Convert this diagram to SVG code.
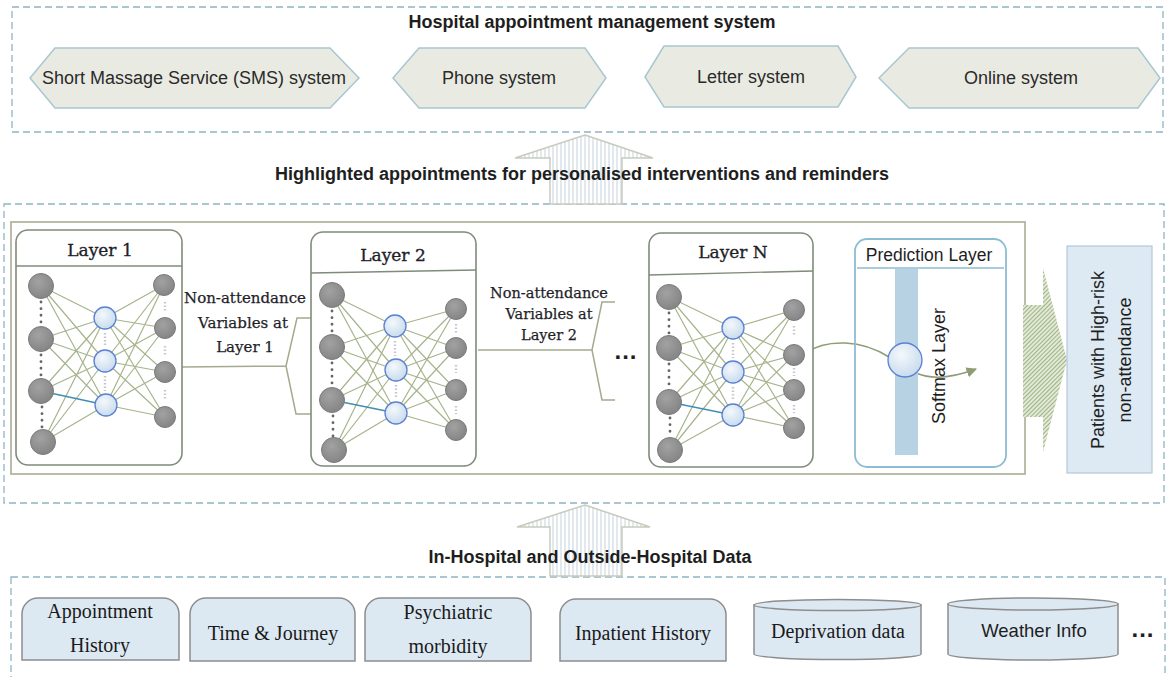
<svg xmlns="http://www.w3.org/2000/svg" width="1167" height="677" viewBox="0 0 1167 677">
<defs>
<style>
.dash{fill:none;stroke:#8fb4c4;stroke-width:1.3;stroke-dasharray:7 4}
.hex{fill:#e9ebe2;stroke:#a8c6d2;stroke-width:1.5}
.title{font-family:"Liberation Sans",Arial,sans-serif;font-weight:bold;font-size:18px;fill:#1e1e1e}
.hx{font-family:"Liberation Sans",Arial,sans-serif;font-size:18px;fill:#2a2a2a}
.sans{font-family:"Liberation Sans",Arial,sans-serif;fill:#1e1e1e}
.serif{font-family:"DejaVu Serif",serif;fill:#1f1f2a;stroke:#1f1f2a;stroke-width:0.35}
.times{font-family:"Liberation Serif","Times New Roman",serif;font-size:20px;fill:#1a1a1a}
.layerbox{fill:#fff;stroke:#7f8c7a;stroke-width:1.6}
.hdr{stroke:#7f8c7a;stroke-width:1.3}
.edge{fill:none;stroke:#a6b48c;stroke-width:1.2}
.blue{stroke:#3f8fb2;stroke-width:1.3}
.gnode{fill:url(#gg);stroke:#7a7a7a;stroke-width:1}
.bnode{fill:url(#bg);stroke:#5c80d2;stroke-width:1.3}
.vdots{stroke:#666;stroke-width:2.8;stroke-linecap:round;stroke-dasharray:0.1 6.5}
.pdots{stroke:#c6c6d0;stroke-width:2.4;stroke-dasharray:1.5 2}
.brace{fill:none;stroke:#a4aa8e;stroke-width:1.5}
.data{fill:#dde9f2;stroke:#8d8d8d;stroke-width:1.5}
.uparrow{fill:url(#vstripe);stroke:#c6ccbd;stroke-width:1.5}
</style>
<radialGradient id="gg" cx="40%" cy="35%" r="70%"><stop offset="0" stop-color="#a2a2a2"/><stop offset="1" stop-color="#838383"/></radialGradient>
<radialGradient id="bg" cx="40%" cy="35%" r="70%"><stop offset="0" stop-color="#f4f8fc"/><stop offset="1" stop-color="#c6daec"/></radialGradient>
<pattern id="vstripe" width="4" height="10" patternUnits="userSpaceOnUse"><rect width="4" height="10" fill="#fff"/><line x1="1" y1="0" x2="1" y2="10" stroke="#c3d3dd" stroke-width="1"/></pattern>
<pattern id="diag" width="3" height="3" patternUnits="userSpaceOnUse" patternTransform="rotate(45)"><rect width="3" height="3" fill="#e2e9d6"/><line x1="0" y1="0" x2="0" y2="3" stroke="#98ad7c" stroke-width="1.8"/></pattern>
<marker id="ah" viewBox="0 0 10 10" refX="9" refY="5" markerWidth="7" markerHeight="7" orient="auto"><path d="M0,0 L10,5 L0,10 z" fill="#8d9c74"/></marker>
</defs>

<rect width="1167" height="677" fill="#fff"/>

<g id="containers">
<rect class="dash" x="12" y="7" width="1151" height="125"/>
<rect class="dash" x="4" y="204" width="1160" height="299"/>
<rect class="dash" x="11" y="577" width="1154" height="120"/>
<rect x="11" y="222" width="1014" height="252" fill="none" stroke="#a9ad92" stroke-width="1.6"/>
</g>

<g id="connectors">
<polygon class="uparrow" points="585,135 653,158 622,158 622,204 550,204 550,158 515,158"/>
<polygon class="uparrow" points="585,505 650,527 622,527 622,576 550,576 550,527 517,527"/>
<polygon points="1023,305 1043,305 1043,268 1067,360 1043,452 1043,417 1023,417" fill="url(#diag)"/>
<path class="brace" d="M182,367 L286,366 M311,318 L297,318 L286,366 L296,414 L311,414"/>
<path class="brace" d="M478,350 L592,350 M615,302 L602,302 L592,350 L602,400 L615,400"/>
<path d="M805,353 C828,338 862,340 889,357" fill="none" stroke="#8d9c74" stroke-width="1.5"/>
<path d="M916,373 C932,380 952,378 976,369" fill="none" stroke="#8d9c74" stroke-width="1.5" marker-end="url(#ah)"/>
</g>

<text class="title" x="592" y="22" text-anchor="middle" dominant-baseline="central">Hospital appointment management system</text>
<text class="title" x="582" y="174" text-anchor="middle" dominant-baseline="central">Highlighted appointments for personalised interventions and reminders</text>
<text class="title" x="590" y="557" text-anchor="middle" dominant-baseline="central">In-Hospital and Outside-Hospital Data</text>

<g id="sms"><polygon class="hex" points="30,78 55,48 330,48 359,78 330,108 55,108"/><text class="hx" x="194" y="78" text-anchor="middle" dominant-baseline="central">Short Massage Service (SMS) system</text></g>
<g id="phone"><polygon class="hex" points="393,78 419,48 585,48 606,78 585,108 419,108"/><text class="hx" x="499" y="78" text-anchor="middle" dominant-baseline="central">Phone system</text></g>
<g id="letter"><polygon class="hex" points="645,77 664,46 838,46 856,77 838,107 664,107"/><text class="hx" x="751" y="77" text-anchor="middle" dominant-baseline="central">Letter system</text></g>
<g id="online"><polygon class="hex" points="879,78 909,48 1138,48 1160,78 1138,108 909,108"/><text class="hx" x="1021" y="78" text-anchor="middle" dominant-baseline="central">Online system</text></g>

<g id="layer1">
<rect class="layerbox" x="16" y="230" width="166" height="235" rx="12"/>
<line class="hdr" x1="16" y1="266" x2="182" y2="266"/>
<text class="serif" x="100" y="250" font-size="17" text-anchor="middle" dominant-baseline="central">Layer 1</text>
<path class="edge" d="M41,286L105,318M41,286L105,361M41,286L106,405M41,339L105,318M41,339L105,361M41,339L106,405M41,391L105,318M41,391L105,361M43,442L105,318M43,442L105,361M43,442L106,405
M105,318L164,285M105,318L165,328M105,318L165,372M105,318L165,417M105,361L164,285M105,361L165,328M105,361L165,372M105,361L165,417M106,405L164,285M106,405L165,328M106,405L165,372M106,405L165,417"/>
<line class="blue" x1="41" y1="391" x2="106" y2="405"/>
<line class="vdots" x1="41" y1="302" x2="41" y2="324"/>
<line class="vdots" x1="41" y1="355" x2="41" y2="376"/>
<line class="vdots" x1="42" y1="407" x2="42" y2="428"/>
<line class="pdots" x1="105" y1="333" x2="105" y2="347"/>
<line class="pdots" x1="105" y1="376" x2="105" y2="391"/>
<line class="pdots" x1="165" y1="302" x2="165" y2="311"/>
<line class="pdots" x1="165" y1="346" x2="165" y2="355"/>
<line class="pdots" x1="165" y1="390" x2="165" y2="399"/>
<circle class="gnode" cx="41" cy="286" r="12.5"/><circle class="gnode" cx="41" cy="339" r="12.5"/><circle class="gnode" cx="41" cy="391" r="12.5"/><circle class="gnode" cx="43" cy="442" r="12.5"/>
<circle class="bnode" cx="105" cy="318" r="11"/><circle class="bnode" cx="105" cy="361" r="11"/><circle class="bnode" cx="106" cy="405" r="11"/>
<circle class="gnode" cx="164" cy="285" r="10.5"/><circle class="gnode" cx="165" cy="328" r="10.5"/><circle class="gnode" cx="165" cy="372" r="10.5"/><circle class="gnode" cx="165" cy="417" r="10.5"/>
</g>

<g id="label1" class="serif" font-size="15" text-anchor="middle" style="stroke-width:0.25">
<text x="245" y="298" dominant-baseline="central">Non-attendance</text>
<text x="243" y="323" dominant-baseline="central">Variables at</text>
<text x="245" y="347" dominant-baseline="central">Layer 1</text>
</g>

<g id="layer2">
<rect class="layerbox" x="311" y="232" width="165" height="234" rx="12"/>
<line class="hdr" x1="311" y1="273" x2="476" y2="270"/>
<text class="serif" x="393" y="255" font-size="17" text-anchor="middle" dominant-baseline="central">Layer 2</text>
<path class="edge" d="M332,295L395,326M332,295L396,370M332,295L396,413M332,347L395,326M332,347L396,370M332,347L396,413M332,400L395,326M332,400L396,370M334,450L395,326M334,450L396,370M334,450L396,413
M395,326L456,309M395,326L456,348M395,326L456,390M395,326L456,430M396,370L456,309M396,370L456,348M396,370L456,390M396,370L456,430M396,413L456,309M396,413L456,348M396,413L456,390M396,413L456,430"/>
<line class="blue" x1="332" y1="400" x2="396" y2="413"/>
<line class="vdots" x1="332" y1="311" x2="332" y2="332"/>
<line class="vdots" x1="332" y1="363" x2="332" y2="384"/>
<line class="vdots" x1="333" y1="416" x2="333" y2="436"/>
<line class="pdots" x1="395" y1="341" x2="395" y2="356"/>
<line class="pdots" x1="396" y1="385" x2="396" y2="399"/>
<line class="pdots" x1="456" y1="324" x2="456" y2="333"/>
<line class="pdots" x1="456" y1="365" x2="456" y2="373"/>
<line class="pdots" x1="456" y1="406" x2="456" y2="414"/>
<circle class="gnode" cx="332" cy="295" r="12.5"/><circle class="gnode" cx="332" cy="347" r="12.5"/><circle class="gnode" cx="332" cy="400" r="12.5"/><circle class="gnode" cx="334" cy="450" r="12.5"/>
<circle class="bnode" cx="395" cy="326" r="11"/><circle class="bnode" cx="396" cy="370" r="11"/><circle class="bnode" cx="396" cy="413" r="11"/>
<circle class="gnode" cx="456" cy="309" r="10.5"/><circle class="gnode" cx="456" cy="348" r="10.5"/><circle class="gnode" cx="456" cy="390" r="10.5"/><circle class="gnode" cx="456" cy="430" r="10.5"/>
</g>

<g id="label2" class="serif" font-size="14.5" text-anchor="middle" style="stroke-width:0.25">
<text x="549" y="293" dominant-baseline="central">Non-attendance</text>
<text x="549" y="314" dominant-baseline="central">Variables at</text>
<text x="549" y="335" dominant-baseline="central">Layer 2</text>
</g>

<text class="sans" x="626" y="350" font-size="24" font-weight="bold" text-anchor="middle" dominant-baseline="central" letter-spacing="1">...</text>

<g id="layerN">
<rect class="layerbox" x="649" y="233" width="164" height="234" rx="12"/>
<line class="hdr" x1="649" y1="275" x2="813" y2="271"/>
<text class="serif" x="733" y="252" font-size="17" text-anchor="middle" dominant-baseline="central">Layer N</text>
<path class="edge" d="M669,297L733,328M669,297L733,372M669,297L733,415M669,348L733,328M669,348L733,372M669,348L733,415M669,402L733,328M669,402L733,372M670,450L733,328M670,450L733,372M670,450L733,415
M733,328L794,310M733,328L794,355M733,328L794,390M733,328L794,428M733,372L794,310M733,372L794,355M733,372L794,390M733,372L794,428M733,415L794,310M733,415L794,355M733,415L794,390M733,415L794,428"/>
<line class="blue" x1="669" y1="402" x2="733" y2="415"/>
<line class="vdots" x1="669" y1="313" x2="669" y2="334"/>
<line class="vdots" x1="669" y1="364" x2="669" y2="386"/>
<line class="vdots" x1="670" y1="418" x2="670" y2="436"/>
<line class="pdots" x1="733" y1="343" x2="733" y2="358"/>
<line class="pdots" x1="733" y1="387" x2="733" y2="401"/>
<line class="pdots" x1="794" y1="326" x2="794" y2="336"/>
<line class="pdots" x1="794" y1="368" x2="794" y2="376"/>
<line class="pdots" x1="794" y1="405" x2="794" y2="413"/>
<circle class="gnode" cx="669" cy="297" r="12.5"/><circle class="gnode" cx="669" cy="348" r="12.5"/><circle class="gnode" cx="669" cy="402" r="12.5"/><circle class="gnode" cx="670" cy="450" r="12.5"/>
<circle class="bnode" cx="733" cy="328" r="11"/><circle class="bnode" cx="733" cy="372" r="11"/><circle class="bnode" cx="733" cy="415" r="11"/>
<circle class="gnode" cx="794" cy="310" r="10.5"/><circle class="gnode" cx="794" cy="355" r="10.5"/><circle class="gnode" cx="794" cy="390" r="10.5"/><circle class="gnode" cx="794" cy="428" r="10.5"/>
</g>

<g id="prediction">
<rect x="855" y="239" width="151" height="228" rx="12" fill="none" stroke="#8dbdd3" stroke-width="1.8"/>
<line x1="857" y1="268" x2="1004" y2="268" stroke="#8dbdd3" stroke-width="1.3"/>
<text class="sans" x="929" y="255" font-size="17.5" text-anchor="middle" dominant-baseline="central">Prediction Layer</text>
<rect x="895" y="269" width="23" height="186" fill="#b7d3e3"/>
<circle class="bnode" cx="905" cy="360" r="17"/>
<text class="sans" transform="translate(939,366) rotate(-90)" font-size="18" text-anchor="middle" dominant-baseline="central" fill="#111">Softmax Layer</text>
</g>

<g id="patients">
<rect x="1067" y="246" width="85" height="227" fill="#dde9f3" stroke="#b3c9d9" stroke-width="1.2"/>
<text class="sans" transform="translate(1098,360) rotate(-90)" font-size="18" text-anchor="middle" dominant-baseline="central" fill="#222">Patients with High-risk</text>
<text class="sans" transform="translate(1125,360) rotate(-90)" font-size="18" text-anchor="middle" dominant-baseline="central" fill="#222">non-attendance</text>
</g>

<g id="appointment-history">
<path class="data" d="M22,660 L22,614 A16,16 0 0 1 38,598 L163,598 A16,16 0 0 1 179,614 L179,660 Z"/>
<text class="times" x="100" y="611" text-anchor="middle" dominant-baseline="central">Appointment</text>
<text class="times" x="100" y="645" text-anchor="middle" dominant-baseline="central">History</text>
</g>
<g id="time-journey">
<path class="data" d="M190,661 L190,614 A16,16 0 0 1 206,598 L339,598 A16,16 0 0 1 355,614 L355,661 Z"/>
<text class="times" x="273" y="633" text-anchor="middle" dominant-baseline="central">Time &amp; Journey</text>
</g>
<g id="psychiatric">
<path class="data" d="M365,661 L365,614 A16,16 0 0 1 381,598 L515,598 A16,16 0 0 1 531,614 L531,661 Z"/>
<text class="times" x="448" y="612" text-anchor="middle" dominant-baseline="central">Psychiatric</text>
<text class="times" x="448" y="646" text-anchor="middle" dominant-baseline="central">morbidity</text>
</g>
<g id="inpatient">
<path class="data" d="M560,661 L560,615 A16,16 0 0 1 576,599 L710,599 A16,16 0 0 1 726,615 L726,661 Z"/>
<text class="times" x="643" y="633" text-anchor="middle" dominant-baseline="central">Inpatient History</text>
</g>
<g id="deprivation">
<path class="data" d="M754,605 L754,654 A83.5,5.5 0 0 0 921,654 L921,605 Z"/>
<ellipse class="data" cx="837.5" cy="605" rx="83.5" ry="5.5"/>
<text class="times" x="838" y="631" text-anchor="middle" dominant-baseline="central">Deprivation data</text>
</g>
<g id="weather">
<path class="data" d="M948,604 L948,654 A85,6 0 0 0 1118,654 L1118,604 Z"/>
<ellipse class="data" cx="1033" cy="604" rx="85" ry="6"/>
<text class="sans" x="1034" y="630" font-size="18.5" text-anchor="middle" dominant-baseline="central" fill="#222">Weather Info</text>
</g>
<text class="sans" x="1143" y="628" font-size="24" font-weight="bold" text-anchor="middle" dominant-baseline="central" letter-spacing="1">...</text>
</svg>
